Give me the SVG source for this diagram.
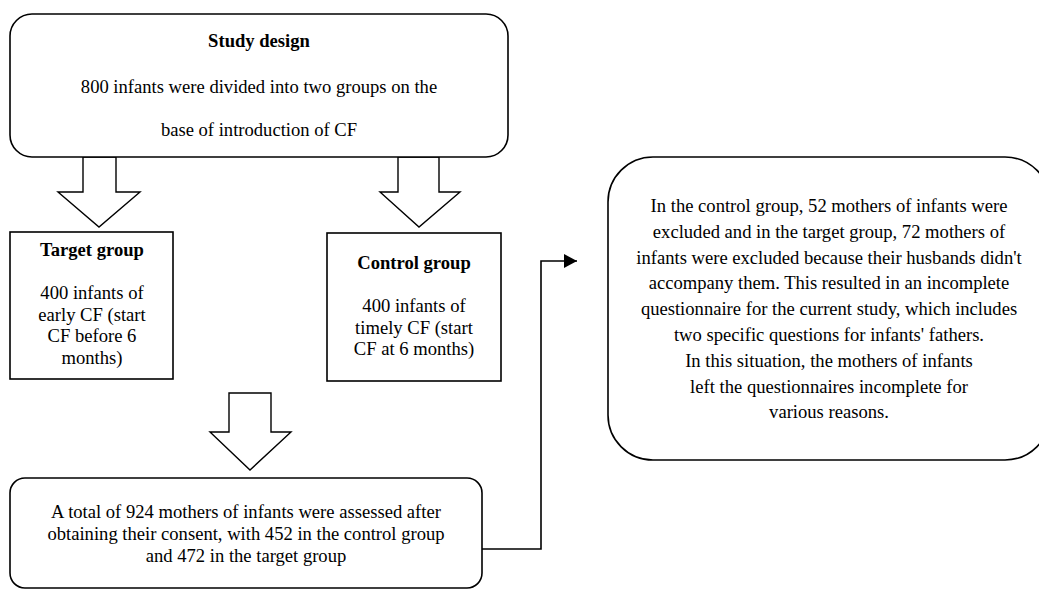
<svg xmlns="http://www.w3.org/2000/svg" width="1039" height="590" viewBox="0 0 1039 590">
<style>
.box{fill:#fff;stroke:#000;stroke-width:1.6}
.barrow{fill:#fff;stroke:#000;stroke-width:1.4;stroke-linejoin:miter}
.conn{fill:none;stroke:#000;stroke-width:1.6}
text{font-family:"Liberation Serif","Times New Roman",serif;font-size:18.6px;fill:#000;text-anchor:middle}
.b{font-weight:bold}
</style>
<defs>
<marker id="ah" markerWidth="14" markerHeight="14" refX="13" refY="7" orient="auto" markerUnits="userSpaceOnUse">
<path d="M0,0 L13,7 L0,14 Z" fill="#000"/>
</marker>
</defs>
<rect width="1039" height="590" fill="#fff"/>
<g id="connectors">
<polygon class="barrow" points="83,157 83,192 58,192 99,227 140,192 116,192 116,157"/>
<polygon class="barrow" points="398,157 398,192 380,192 419,227 460,192 439,192 439,157"/>
<polygon class="barrow" points="229,393 229,432 210,432 250,470 291,432 271,432 271,393"/>
<path class="conn" d="M482,549 H541 V261 H577" marker-end="url(#ah)"/>
</g>
<g id="study-design">
<rect class="box" x="10" y="14" width="498" height="143" rx="22" ry="22"/>
<text class="b" x="259" y="47">Study design</text>
<text x="259" y="93">800 infants were divided into two groups on the</text>
<text x="259" y="136">base of introduction of CF</text>
</g>
<g id="target-group">
<rect class="box" x="10" y="232" width="163" height="147"/>
<text class="b" x="92" y="256">Target group</text>
<text x="92" y="299">400 infants of</text>
<text x="92" y="320.5">early CF (start</text>
<text x="92" y="342">CF before 6</text>
<text x="92" y="363.5">months)</text>
</g>
<g id="control-group">
<rect class="box" x="327" y="233" width="174" height="148"/>
<text class="b" x="414" y="269">Control group</text>
<text x="414" y="312">400 infants of</text>
<text x="414" y="333.5">timely CF (start</text>
<text x="414" y="355">CF at 6 months)</text>
</g>
<g id="assessed">
<rect class="box" x="10" y="478" width="472" height="110" rx="15" ry="15"/>
<text x="246" y="518">A total of 924 mothers of infants were assessed after</text>
<text x="246" y="540">obtaining their consent, with 452 in the control group</text>
<text x="246" y="562">and 472 in the target group</text>
</g>
<g id="excluded">
<rect class="box" x="608" y="157" width="442" height="303" rx="45" ry="45"/>
<text x="829" y="212">In the control group, 52 mothers of infants were</text>
<text x="829" y="237.8">excluded and in the target group, 72 mothers of</text>
<text x="829" y="263.6">infants were excluded because their husbands didn't</text>
<text x="829" y="289.4">accompany them. This resulted in an incomplete</text>
<text x="829" y="315.2">questionnaire for the current study, which includes</text>
<text x="829" y="341">two specific questions for infants' fathers.</text>
<text x="829" y="366.8">In this situation, the mothers of infants</text>
<text x="829" y="392.6">left the questionnaires incomplete for</text>
<text x="829" y="418.4">various reasons.</text>
</g>
</svg>
